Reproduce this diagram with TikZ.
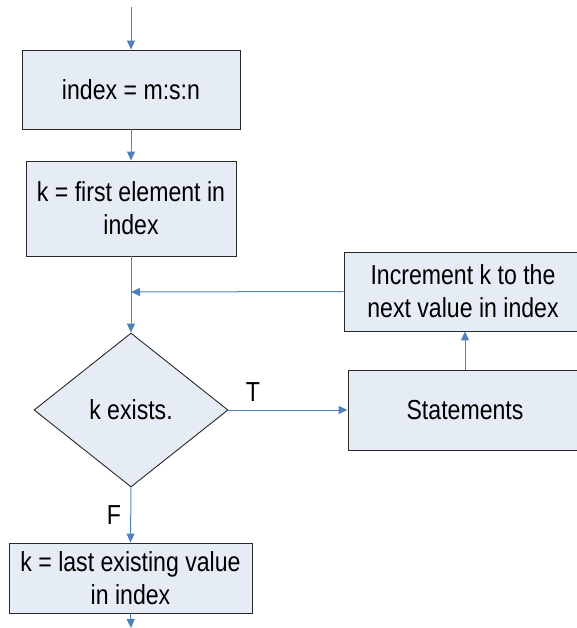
\documentclass[tikz,border=0pt]{standalone}
\usepackage{fontspec}
\setmainfont{Liberation Sans}[FakeStretch=0.84]
\usetikzlibrary{shapes.geometric,arrows.meta}
\definecolor{boxfill}{RGB}{230,236,246}
\definecolor{linkblue}{RGB}{79,129,189}
\definecolor{edge}{RGB}{40,40,40}
\tikzset{
  procbox/.style={draw=edge, line width=0.9pt, fill=boxfill, rectangle, inner sep=0pt, align=center, font=\fontsize{27.5}{33}\selectfont},
  decbox/.style={draw=edge, line width=0.9pt, fill=boxfill, diamond, inner sep=0pt, font=\fontsize{27.5}{33}\selectfont},
  arr/.style={draw=linkblue, line width=1pt, -{Triangle[length=9pt,width=8pt]}},
  lbl/.style={font=\fontsize{27.5}{30}\selectfont, inner sep=0pt}
}
\begin{document}
\begin{tikzpicture}[x=1pt,y=-1pt]
\useasboundingbox (0,0) rectangle (576,628);
\node[procbox, minimum width=218pt, minimum height=79pt] (b1) at (131,89.5) {index = m:s:n};
\node[procbox, minimum width=210pt, minimum height=95pt] (b2) at (131,208.5) {k = first element in\\index};
\node[decbox, minimum width=194pt, minimum height=154pt] (d) at (131,410) {k exists.};
\node[procbox, minimum width=234pt, minimum height=80pt] (st) at (465,410) {Statements};
\node[procbox, minimum width=238pt, minimum height=79pt] (inc) at (463,291.5) {Increment k to the\\next value in index};
\node[procbox, minimum width=243pt, minimum height=70pt] (b3) at (130.5,578) {k = last existing value\\in index};
\coordinate (start) at (131,7);
\coordinate (merge) at (131,292);
\coordinate (fin) at (131,628);
\node[lbl] (t) at (253,392) {T};
\node[lbl] (f) at (114,515) {F};
\draw[arr] (start) -- (b1.north);
\draw[arr] (b1.south) -- (b2.north);
\draw[arr] (b2.south) -- (d.north);
\draw[arr] (inc.west) -- (merge);
\draw[arr] (d.east) -- (st.west);
\draw[arr] (st.north) -- (st.north |- inc.south);
\draw[arr] (d.south) -- (b3.north);
\draw[arr] (b3.south) -- (fin);
\end{tikzpicture}
\end{document}
